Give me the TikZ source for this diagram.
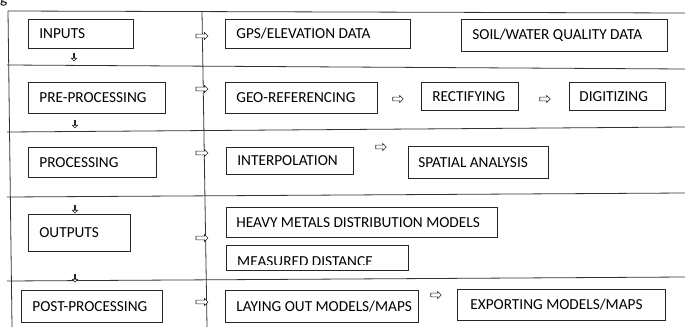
\documentclass[tikz,border=0pt]{standalone}
\usepackage{fontspec}
\setmainfont{Carlito}
\usetikzlibrary{shapes.arrows}
\newcommand{\bxt}[2]{\makebox[#1pt][l]{#2}}
\begin{document}
\begin{tikzpicture}[x=1pt,y=-1pt,
  frame/.style={line width=0.8pt, draw=black!80},
  lbl/.style={font=\fontsize{15.3}{18}\selectfont, inner sep=0pt},
  bx/.style={draw=black!85, line width=0.7pt, anchor=north west, inner xsep=11pt, inner ysep=0pt,
             minimum height=#1pt, font=\fontsize{15.3}{18}\selectfont},
  rar/.style={single arrow, draw=black!85, fill=white, line width=0.6pt, inner xsep=0pt, inner ysep=1.6pt,
              minimum height=12pt, minimum width=6.8pt, single arrow head extend=1.6pt},
  sar/.style={rar, minimum height=10.5pt},
  dar/.style={rar, shape border rotate=270, minimum height=7.5pt, inner ysep=1.3pt, minimum width=5.4pt, single arrow head extend=1.4pt}]
\useasboundingbox (0,0) rectangle (685,327);
% caption fragment
\node[lbl, anchor=base west] (cap) at (0,3) {g};
% table frame
\draw[frame] (8,11) -- (685,13);
\draw[frame] (7,65) -- (685,69);
\draw[frame] (7,132) -- (685,127);
\draw[frame] (7,197) -- (685,193);
\draw[frame] (7,281) -- (685,277);
\draw[frame] (8,11) -- (12,327);
\draw[frame] (202,11) -- (207,327);
% left column
\node[bx=29] (inputs) at (28,19) {\bxt{83}{INPUTS}};
\node[bx=31] (pre) at (28,82) {\bxt{115}{PRE-PROCESSING}};
\node[bx=30] (proc) at (28,147) {\bxt{106}{PROCESSING}};
\node[bx=37] (outputs) at (28,214) {\bxt{80}{OUTPUTS}};
\node[bx=32] (post) at (21,290) {\bxt{119}{POST-PROCESSING}};
% right column
\node[bx=29] (gps) at (225,19) {\bxt{163}{GPS/ELEVATION DATA}};
\node[bx=32] (soil) at (461,19) {\bxt{184}{SOIL/WATER QUALITY DATA}};
\node[bx=31] (geo) at (225,82) {\bxt{130}{GEO-REFERENCING}};
\node[bx=28] (rect) at (421,82) {\bxt{75}{RECTIFYING}};
\node[bx=28, inner xsep=10pt] (digit) at (569,82) {\bxt{76}{DIGITIZING}};
\node[bx=27] (interp) at (226,147) {\bxt{105}{INTERPOLATION}};
\node[bx=32, inner xsep=10pt] (spatial) at (408,146) {\bxt{120}{SPATIAL ANALYSIS}};
\node[bx=30, inner xsep=10pt] (heavy) at (226,207) {\bxt{251}{HEAVY METALS DISTRIBUTION MODELS}};
\node[bx=25] (measured) at (226,245) {\bxt{160}{}};
\begin{scope}
  \clip (226,245) rectangle (408,264.5);
  \node[lbl, anchor=base west] (measuredtxt) at (237,266.5) {MEASURED DISTANCE};
\end{scope}
\node[bx=32] (laying) at (225,290) {\bxt{171}{LAYING OUT MODELS/MAPS}};
\node[bx=31, inner xsep=13pt] (export) at (457,289) {\bxt{182}{EXPORTING MODELS/MAPS}};
% arrows into the right column
\node[rar] (r1) at (201,36) {};
\node[rar] (r2) at (201,89) {};
\node[rar] (r3) at (201,153) {};
\node[rar] (r4) at (201,238) {};
\node[rar] (r5) at (201,302) {};
% arrows within rows
\node[sar] (g2r) at (397,99) {};
\node[sar] (r2d) at (544,99) {};
\node[sar] (i2s) at (380,147) {};
\node[sar] (l2e) at (435,295) {};
% down arrows
\node[dar] (d1) at (74,57) {};
\node[dar] (d2) at (75,124) {};
\node[dar] (d3) at (75,209) {};
\node[dar] (d4) at (75,278) {};
\end{tikzpicture}
\end{document}
